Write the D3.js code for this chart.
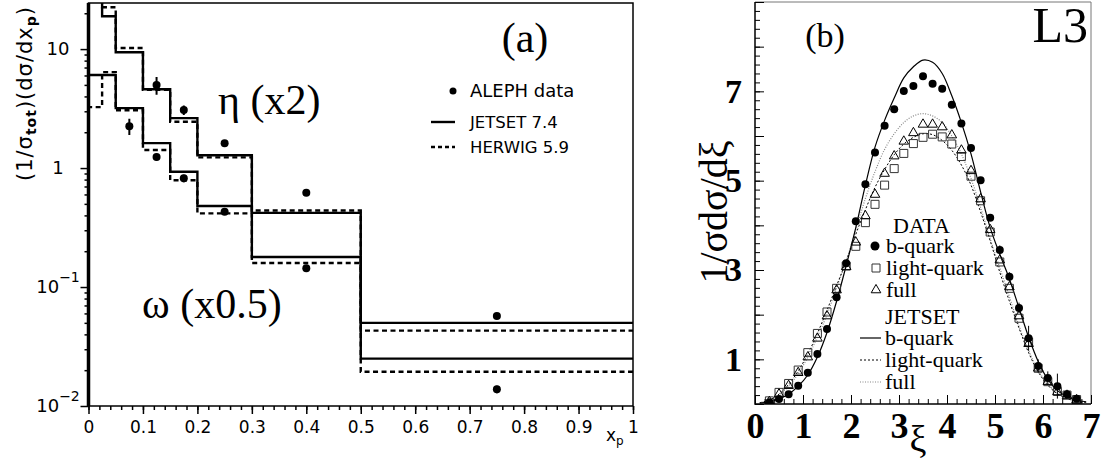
<!DOCTYPE html>
<html>
<head>
<meta charset="utf-8">
<script src="https://cdn.jsdelivr.net/npm/d3@7"></script>
<style>
body { margin: 0; background: #fff; }
</style>
</head>
<body>
<svg id="chart" width="1104" height="466"></svg>
<script>
// ---- panel (a): eta / omega x_p spectra ----
var binEdges = [0, 0.025, 0.05, 0.1, 0.15, 0.2, 0.3, 0.5, 1];
var etaJetset = [26, 18.9, 9.4, 4.6, 2.63, 1.28, 0.42, 0.050];
var etaHerwig = [30, 22.5, 10.2, 4.55, 2.45, 1.23, 0.44, 0.043];
var omegaJetset = [6.05, 6.05, 3.19, 1.62, 0.93, 0.48, 0.179, 0.025];
var omegaHerwig = [3.25, 6.4, 3.06, 1.42, 0.79, 0.416, 0.159, 0.0194];

var etaX = [0.125, 0.175, 0.25, 0.4, 0.75];
var etaData = [4.98, 3.07, 1.62, 0.62, 0.057];
var etaErr = [0.85, 0.28, 0.08, 0.03, 0.003];
var omegaX = [0.075, 0.125, 0.175, 0.25, 0.4, 0.75];
var omegaData = [2.25, 1.24, 0.82, 0.43, 0.1435, 0.0138];
var omegaErr = [0.35, 0.08, 0.06, 0.02, 0.008, 0.001];

var xTicksA = [0, 0.1, 0.2, 0.3, 0.4, 0.5, 0.6, 0.7, 0.8, 0.9, 1];
var xTickLabelsA = ["0", "0.1", "0.2", "0.3", "0.4", "0.5", "0.6", "0.7", "0.8", "0.9", "1"];
var yTicksA = [10, 1, 0.1, 0.01];
var yTickBaseA = ["10", "1", "10", "10"];
var yTickExpA = ["", "", "\u22121", "\u22122"];

// ---- panel (b): xi spectra ----
var xiData = [0.3, 0.5, 0.7, 0.9, 1.1, 1.3, 1.5, 1.7, 1.9, 2.1, 2.3, 2.5, 2.7, 2.9, 3.1, 3.3, 3.5,
  3.7, 3.9, 4.1, 4.3, 4.5, 4.7, 4.9, 5.1, 5.3, 5.5, 5.7, 5.9, 6.1, 6.3, 6.5, 6.7];
var bQuarkData = [0.04, 0.11, 0.22, 0.41, 0.70, 1.12, 1.68, 2.39, 3.15, 4.09, 4.92, 5.63, 6.23, 6.60, 7.01, 7.12, 7.34,
  7.17, 7.06, 6.70, 6.28, 5.73, 5.01, 4.17, 3.45, 2.85, 2.15, 1.47, 0.85, 0.58, 0.40, 0.22, 0.12];
var bQuarkErr = [0, 0, 0, 0, 0, 0, 0, 0, 0, 0, 0, 0, 0, 0, 0, 0, 0,
  0, 0, 0, 0, 0, 0, 0, 0.1, 0.1, 0.12, 0.28, 0.15, 0.15, 0.28, 0.1, 0.06];
var lightData = [0.07, 0.26, 0.46, 0.76, 1.15, 1.58, 2.06, 2.59, 3.09, 3.53, 4.06, 4.47, 4.90, 5.27, 5.61, 5.83, 5.97,
  6.04, 5.98, 5.82, 5.54, 5.10, 4.55, 3.85, 3.18, 2.59, 1.92, 1.39, 0.80, 0.50, 0.28, 0.20, 0.10];
var fullData = [0.05, 0.22, 0.41, 0.70, 1.05, 1.47, 1.97, 2.55, 3.07, 3.62, 4.21, 4.69, 5.16, 5.55, 5.88, 6.07, 6.26,
  6.26, 6.20, 6.02, 5.68, 5.22, 4.59, 3.90, 3.22, 2.62, 1.97, 1.35, 0.80, 0.50, 0.27, 0.18, 0.09];

var xiCurve = [0.1, 0.3, 0.5, 0.7, 0.9, 1.1, 1.3, 1.5, 1.7, 1.9, 2.1, 2.3, 2.5, 2.7, 2.9, 3.1, 3.3, 3.5,
  3.7, 3.9, 4.1, 4.3, 4.5, 4.7, 4.9, 5.1, 5.3, 5.5, 5.7, 5.9, 6.1, 6.3, 6.5, 6.7, 6.9];
var jetsetB = [0.02, 0.05, 0.12, 0.22, 0.40, 0.65, 1.05, 1.6, 2.3, 3.1, 3.95, 4.9, 5.75, 6.35, 6.85, 7.3, 7.55, 7.7,
  7.65, 7.4, 6.9, 6.3, 5.6, 4.75, 3.95, 3.35, 2.8, 2.15, 1.5, 0.95, 0.55, 0.3, 0.17, 0.09, 0.05];
var jetsetLight = [0.03, 0.09, 0.22, 0.44, 0.74, 1.12, 1.58, 2.1, 2.65, 3.2, 3.8, 4.35, 4.85, 5.25, 5.58, 5.82, 5.97, 6.05,
  6.03, 5.9, 5.68, 5.35, 4.9, 4.3, 3.65, 2.95, 2.3, 1.7, 1.15, 0.72, 0.42, 0.23, 0.12, 0.06, 0.03];
var jetsetFull = [0.03, 0.08, 0.2, 0.4, 0.68, 1.05, 1.5, 2.0, 2.6, 3.2, 3.9, 4.6, 5.2, 5.7, 6.05, 6.3, 6.45, 6.5,
  6.45, 6.3, 6.0, 5.6, 5.05, 4.4, 3.7, 3.05, 2.4, 1.75, 1.2, 0.75, 0.45, 0.25, 0.14, 0.07, 0.04];

var xTicksB = [0, 1, 2, 3, 4, 5, 6, 7];
var yTicksB = [0, 1, 2, 3, 4, 5, 6, 7, 8, 9];
var yLabelsB = [1, 3, 5, 7];

var sans = "'DejaVu Sans', sans-serif";
var serif = "'Liberation Serif', 'Times New Roman', serif";

var svg = d3.select('#chart');

// ================= panel (a) =================
var xA = d3.scaleLinear().domain([0, 1]).range([88.5, 633]);
var yA = d3.scaleLog().domain([0.01, 24.4]).range([406, 3]);

svg.append('clipPath').attr('id', 'clipA')
  .append('rect')
    .attr('x', xA(0)).attr('y', yA(24.4))
    .attr('width', xA(1) - xA(0)).attr('height', yA(0.01) - yA(24.4));

function steps(vals) {
  var pts = [[0, 0.01]];
  vals.forEach(function(v, i) {
    pts.push([binEdges[i], v]);
    pts.push([binEdges[i + 1], v]);
  });
  return pts;
}
var stepLine = d3.line()
  .x(function(d) { return xA(d[0]); })
  .y(function(d) { return yA(d[1]); });

var gA = svg.append('g').attr('clip-path', 'url(#clipA)');
[[etaJetset, null], [omegaJetset, null], [etaHerwig, '5,3.5'], [omegaHerwig, '5,3.5']].forEach(function(s) {
  gA.append('path')
    .attr('d', stepLine(steps(s[0])))
    .attr('fill', 'none')
    .attr('stroke', '#000')
    .attr('stroke-width', 2.4)
    .attr('stroke-dasharray', s[1]);
});

function drawPoints(xs, ys, errs) {
  xs.forEach(function(x, i) {
    if (errs[i] > 0) {
      gA.append('line')
        .attr('x1', xA(x)).attr('x2', xA(x))
        .attr('y1', yA(ys[i] + errs[i])).attr('y2', yA(ys[i] - errs[i]))
        .attr('stroke', '#000').attr('stroke-width', 2);
    }
    gA.append('circle')
      .attr('cx', xA(x)).attr('cy', yA(ys[i])).attr('r', 4)
      .attr('fill', '#000');
  });
}
drawPoints(etaX, etaData, etaErr);
drawPoints(omegaX, omegaData, omegaErr);

// frame
svg.append('rect')
  .attr('x', xA(0)).attr('y', yA(24.4))
  .attr('width', xA(1) - xA(0)).attr('height', yA(0.01) - yA(24.4))
  .attr('fill', 'none').attr('stroke', '#000').attr('stroke-width', 1.5);
svg.append('line')
  .attr('x1', xA(0)).attr('x2', xA(0)).attr('y1', yA(24.4)).attr('y2', yA(0.01))
  .attr('stroke', '#000').attr('stroke-width', 3.5);

// x axis (a)
var axA = svg.append('g')
  .attr('transform', 'translate(0,' + yA(0.01) + ')');
axA.call(d3.axisBottom(xA).tickValues(xTicksA).tickSize(8).tickPadding(7)
  .tickFormat(function(d, i) { return xTickLabelsA[i]; }));
axA.append('g').call(d3.axisBottom(xA).tickValues(d3.range(0, 1.001, 0.02)).tickSize(4).tickFormat(''));
axA.selectAll('.domain').remove();
axA.selectAll('line').attr('stroke-width', 1.5);
axA.selectAll('text').attr('fill', '#000')
  .attr('font-family', sans).attr('font-size', 17);

var xpLabel = svg.append('text')
  .attr('x', 606).attr('y', 441)
  .attr('font-family', sans).attr('font-size', 17);
xpLabel.append('tspan').text('x');
xpLabel.append('tspan').attr('dy', 4).attr('font-size', 12).text('p');

// y axis (a)
var minorA = [];
[0.01, 0.1, 1, 10].forEach(function(dec) {
  d3.range(2, 10).forEach(function(k) { if (k * dec < 24.4) minorA.push(k * dec); });
});
var ayA = svg.append('g').attr('transform', 'translate(' + xA(0) + ',0)');
ayA.call(d3.axisLeft(yA).tickValues(yTicksA).tickSize(8).tickFormat(''));
ayA.append('g').call(d3.axisLeft(yA).tickValues(minorA).tickSize(4).tickFormat(''));
ayA.selectAll('.domain').remove();
ayA.selectAll('line').attr('stroke-width', 1.5);

yTicksA.forEach(function(v, i) {
  var t = svg.append('text')
    .attr('x', 58).attr('y', yA(v) + 6)
    .attr('text-anchor', 'middle')
    .attr('font-family', sans).attr('font-size', 18);
  t.append('tspan').text(yTickBaseA[i]);
  if (yTickExpA[i]) {
    t.append('tspan').attr('dy', -11).attr('font-size', 14).text(yTickExpA[i]);
  }
});

// y title (a)
var yTitleA = svg.append('text')
  .attr('transform', 'translate(32,6) rotate(-90)')
  .attr('text-anchor', 'end')
  .attr('font-family', sans).attr('font-size', 21)
  .attr('letter-spacing', 1);
yTitleA.append('tspan').text('(1/\u03c3');
yTitleA.append('tspan').attr('dy', 4).attr('font-size', 14).attr('font-weight', 'bold').text('tot');
yTitleA.append('tspan').attr('dy', -4).text(')(d\u03c3/dx');
yTitleA.append('tspan').attr('dy', 4).attr('font-size', 14).attr('font-weight', 'bold').text('p');
yTitleA.append('tspan').attr('dy', -4).text(')');

// annotations (a)
svg.append('text').attr('x', 525).attr('y', 52).attr('text-anchor', 'middle')
  .attr('font-family', serif).attr('font-size', 42).text('(a)');
svg.append('text').attr('x', 218).attr('y', 114)
  .attr('font-family', serif).attr('font-size', 42).text('\u03b7 (x2)');
svg.append('text').attr('x', 142).attr('y', 318)
  .attr('font-family', serif).attr('font-size', 42).text('\u03c9 (x0.5)');

// legend (a)
svg.append('circle').attr('cx', 453).attr('cy', 91).attr('r', 3.5).attr('fill', '#000');
svg.append('text').attr('x', 470).attr('y', 97).attr('font-family', sans).attr('font-size', 18).text('ALEPH data');
svg.append('line').attr('x1', 431).attr('x2', 455).attr('y1', 122).attr('y2', 122)
  .attr('stroke', '#000').attr('stroke-width', 2.4);
svg.append('text').attr('x', 470).attr('y', 128).attr('font-family', sans).attr('font-size', 16.5).text('JETSET 7.4');
svg.append('line').attr('x1', 431).attr('x2', 455).attr('y1', 147).attr('y2', 147)
  .attr('stroke', '#000').attr('stroke-width', 2.4).attr('stroke-dasharray', '4,3');
svg.append('text').attr('x', 470).attr('y', 153).attr('font-family', sans).attr('font-size', 16.5).text('HERWIG 5.9');

// ================= panel (b) =================
var xB = d3.scaleLinear().domain([0, 7]).range([755, 1091]);
var yB = d3.scaleLinear().domain([0, 9]).range([404, 2]);

svg.append('clipPath').attr('id', 'clipB')
  .append('rect').attr('x', xB(0)).attr('y', yB(9))
  .attr('width', xB(7) - xB(0)).attr('height', yB(0) - yB(9));
var gB = svg.append('g').attr('clip-path', 'url(#clipB)');

var curve = d3.line()
  .x(function(d) { return xB(d[0]); })
  .y(function(d) { return yB(d[1]); })
  .curve(d3.curveCatmullRom);

function pairs(xs, ys) { return xs.map(function(x, i) { return [x, ys[i]]; }); }

gB.append('path').attr('d', curve(pairs(xiCurve, jetsetFull)))
  .attr('fill', 'none').attr('stroke', '#888').attr('stroke-width', 1.2).attr('stroke-dasharray', '1,1.5');
gB.append('path').attr('d', curve(pairs(xiCurve, jetsetLight)))
  .attr('fill', 'none').attr('stroke', '#000').attr('stroke-width', 1).attr('stroke-dasharray', '2,2');
gB.append('path').attr('d', curve(pairs(xiCurve, jetsetB)))
  .attr('fill', 'none').attr('stroke', '#000').attr('stroke-width', 1.2);

var sq = d3.symbol().type(d3.symbolSquare).size(64);
var tri = d3.symbol().type(d3.symbolTriangle).size(40);

xiData.forEach(function(xi, i) {
  gB.append('path').attr('d', sq())
    .attr('transform', 'translate(' + xB(xi) + ',' + yB(lightData[i]) + ')')
    .attr('fill', 'none').attr('stroke', '#333').attr('stroke-width', 1);
  gB.append('path').attr('d', tri())
    .attr('transform', 'translate(' + xB(xi) + ',' + yB(fullData[i]) + ')')
    .attr('fill', 'none').attr('stroke', '#000').attr('stroke-width', 1);
  if (bQuarkErr[i] > 0) {
    gB.append('line')
      .attr('x1', xB(xi)).attr('x2', xB(xi))
      .attr('y1', yB(bQuarkData[i] + bQuarkErr[i])).attr('y2', yB(bQuarkData[i] - bQuarkErr[i]))
      .attr('stroke', '#000').attr('stroke-width', 1);
  }
  gB.append('circle').attr('cx', xB(xi)).attr('cy', yB(bQuarkData[i])).attr('r', 4).attr('fill', '#000');
});

// frame (b)
svg.append('path')
  .attr('d', 'M' + xB(0) + ',' + yB(9) + 'H' + xB(7) + 'V' + yB(0))
  .attr('fill', 'none').attr('stroke', '#777').attr('stroke-width', 1);
svg.append('path')
  .attr('d', 'M' + xB(0) + ',' + yB(9) + 'V' + yB(0) + 'H' + xB(7))
  .attr('fill', 'none').attr('stroke', '#000').attr('stroke-width', 1.5);

// axes (b)
var axB = svg.append('g').attr('transform', 'translate(0,' + yB(0) + ')');
axB.call(d3.axisBottom(xB).tickValues(xTicksB).tickSize(-9).tickPadding(8).tickFormat(d3.format('d')));
axB.append('g').call(d3.axisBottom(xB).tickValues(d3.range(0, 7.001, 0.2)).tickSize(-5).tickFormat(''));
axB.selectAll('.domain').remove();
axB.selectAll('text').attr('fill', '#000')
  .attr('font-family', serif).attr('font-size', 36).attr('font-weight', 'bold');

var ayB = svg.append('g').attr('transform', 'translate(' + xB(0) + ',0)');
ayB.call(d3.axisLeft(yB).tickValues(yTicksB).tickSize(-9).tickPadding(13)
  .tickFormat(function(d) { return yLabelsB.indexOf(d) >= 0 ? d : ''; }));
ayB.append('g').call(d3.axisLeft(yB).tickValues(d3.range(0, 9.001, 0.2)).tickSize(-5).tickFormat(''));
ayB.selectAll('.domain').remove();
ayB.selectAll('text').attr('fill', '#000')
  .attr('font-family', serif).attr('font-size', 34).attr('font-weight', 'bold');

svg.append('text').attr('x', 918).attr('y', 452).attr('text-anchor', 'middle')
  .attr('font-family', serif).attr('font-size', 38).text('\u03be');
svg.append('text')
  .attr('transform', 'translate(727,' + 212 + ') rotate(-90)')
  .attr('text-anchor', 'middle')
  .attr('font-family', serif).attr('font-size', 40)
  .text('1/\u03c3d\u03c3/d\u03be');

svg.append('text').attr('x', 1088).attr('y', 42).attr('text-anchor', 'end')
  .attr('font-family', serif).attr('font-size', 50).text('L3');
svg.append('text').attr('x', 825).attr('y', 47).attr('text-anchor', 'middle')
  .attr('font-family', serif).attr('font-size', 34).text('(b)');

// legend (b)
var legB = svg.append('g').attr('font-family', serif).attr('font-size', 22);
legB.append('text').attr('x', 893).attr('y', 233).text('DATA');
legB.append('circle').attr('cx', 875).attr('cy', 246).attr('r', 4.5).attr('fill', '#000');
legB.append('text').attr('x', 886).attr('y', 253).text('b-quark');
legB.append('path').attr('d', sq()).attr('transform', 'translate(876,268)')
  .attr('fill', 'none').attr('stroke', '#333');
legB.append('text').attr('x', 886).attr('y', 275).text('light-quark');
legB.append('path').attr('d', tri()).attr('transform', 'translate(876,290)')
  .attr('fill', 'none').attr('stroke', '#000');
legB.append('text').attr('x', 886).attr('y', 297).text('full');
legB.append('text').attr('x', 885).attr('y', 324).text('JETSET');
legB.append('line').attr('x1', 860).attr('x2', 881).attr('y1', 338).attr('y2', 338)
  .attr('stroke', '#000').attr('stroke-width', 1.2);
legB.append('text').attr('x', 885).attr('y', 345).text('b-quark');
legB.append('line').attr('x1', 860).attr('x2', 881).attr('y1', 360).attr('y2', 360)
  .attr('stroke', '#000').attr('stroke-width', 1).attr('stroke-dasharray', '2,2');
legB.append('text').attr('x', 885).attr('y', 367).text('light-quark');
legB.append('line').attr('x1', 860).attr('x2', 881).attr('y1', 382).attr('y2', 382)
  .attr('stroke', '#888').attr('stroke-width', 1.2).attr('stroke-dasharray', '1,1.5');
legB.append('text').attr('x', 885).attr('y', 389).text('full');
</script>
</body>
</html>
